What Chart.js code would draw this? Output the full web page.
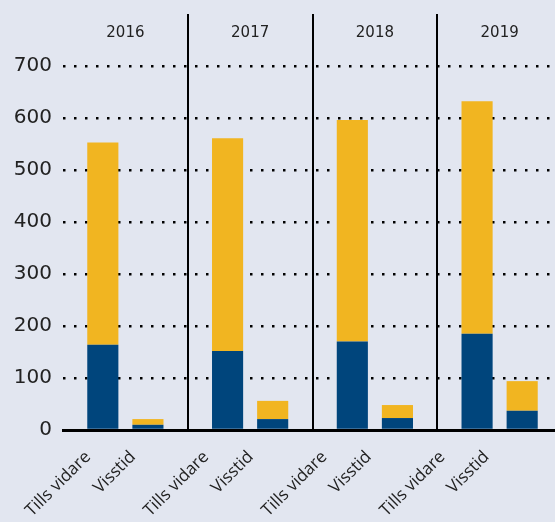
<!DOCTYPE html>
<html>
<head>
<meta charset="utf-8">
<script src="https://cdn.jsdelivr.net/npm/chart.js@4"></script>
<style>
  html, body { margin: 0; padding: 0; background: #e2e6f0; overflow: hidden; }
  #wrap { width: 562px; height: 522px; }
</style>
</head>
<body>
<div id="wrap"><canvas id="chart" width="562" height="522"></canvas></div>
<script>
// Years (top) and contract types (bottom)
const years = ['2016', '2017', '2018', '2019'];
const contractTypes = ['Tills vidare', 'Visstid'];

// Segment values
const tillsVidareBlue = [164, 152, 170, 185];
const tillsVidareYellow = [389, 409, 426, 447];
const visstidBlue = [10, 21, 23, 37];
const visstidYellow = [11, 35, 25, 57];

const BLUE = '#00457c';
const YELLOW = '#f1b521';
const TEXT = '#222222';

// Where the rotated labels end on the bottom axis, in group units
const labelAnchors = [];
years.forEach((y, i) => {
    labelAnchors.push(0.20 + i * 0.947);
    labelAnchors.push(0.56 + i * 0.945);
});

// Year labels inside the top of the plot
const yearLabels = {
    id: 'yearLabels',
    afterDraw(chart) {
        const ctx = chart.ctx;
        const xs = chart.scales.x;
        ctx.save();
        ctx.font = '15px "DejaVu Sans"';
        ctx.fillStyle = TEXT;
        ctx.textAlign = 'center';
        ctx.textBaseline = 'middle';
        years.forEach((y, i) => {
            ctx.fillText(y, xs.getPixelForValue(i), chart.chartArea.top + 19);
        });
        ctx.restore();
    }
};

new Chart(document.getElementById('chart'), {
    type: 'bar',
    data: {
        labels: years,
        datasets: [
            { data: tillsVidareBlue, backgroundColor: BLUE, stack: 'tv' },
            { data: tillsVidareYellow, backgroundColor: YELLOW, stack: 'tv' },
            { data: visstidBlue, backgroundColor: BLUE, stack: 'vs' },
            { data: visstidYellow, backgroundColor: YELLOW, stack: 'vs' }
        ]
    },
    options: {
        responsive: false,
        animation: false,
        categoryPercentage: 0.723,
        barPercentage: 0.69,
        layout: { padding: { top: 14, left: 0, right: 0, bottom: 0 } },
        plugins: { legend: { display: false }, tooltip: { enabled: false } },
        scales: {
            x: {
                position: 'top',
                stacked: true,
                ticks: { display: false },
                grid: {
                    offset: true,
                    drawTicks: false,
                    lineWidth: 2,
                    color: ctx => (ctx.index === 0 ? 'rgba(0,0,0,0)' : '#000000')
                },
                border: { display: false },
                afterFit: scale => { scale.height = 0; }
            },
            xb: {
                type: 'linear',
                position: 'bottom',
                offset: false,
                min: 0,
                max: 4,
                afterBuildTicks: scale => {
                    scale.ticks = labelAnchors.map(v => ({ value: v }));
                },
                ticks: {
                    autoSkip: false,
                    minRotation: 45,
                    maxRotation: 45,
                    padding: 17,
                    color: TEXT,
                    font: { family: '"Open Sans"', size: 17 },
                    callback: (v, i) => contractTypes[i % 2]
                },
                grid: { display: false, drawTicks: false, offset: false },
                border: { display: true, color: '#000000', width: 3 },
                afterFit: scale => {
                    scale.height = 92;
                    scale.paddingLeft = 0;
                    scale.paddingRight = 0;
                }
            },
            y: {
                stacked: true,
                min: 0,
                max: 800,
                ticks: {
                    stepSize: 100,
                    padding: 11,
                    color: TEXT,
                    font: { family: '"DejaVu Sans"', size: 20 },
                    callback: v => (v === 800 ? '' : v)
                },
                grid: {
                    drawTicks: false,
                    lineWidth: 2.5,
                    color: ctx => (ctx.tick && (ctx.tick.value === 0 || ctx.tick.value === 800) ? 'rgba(0,0,0,0)' : '#000000')
                },
                border: { display: false, dash: [2.5, 8.5] },
                afterFit: scale => {
                    scale.width = 63;
                    scale.paddingTop = 0;
                    scale.paddingBottom = 0;
                }
            }
        }
    },
    plugins: [yearLabels]
});
</script>
</body>
</html>
